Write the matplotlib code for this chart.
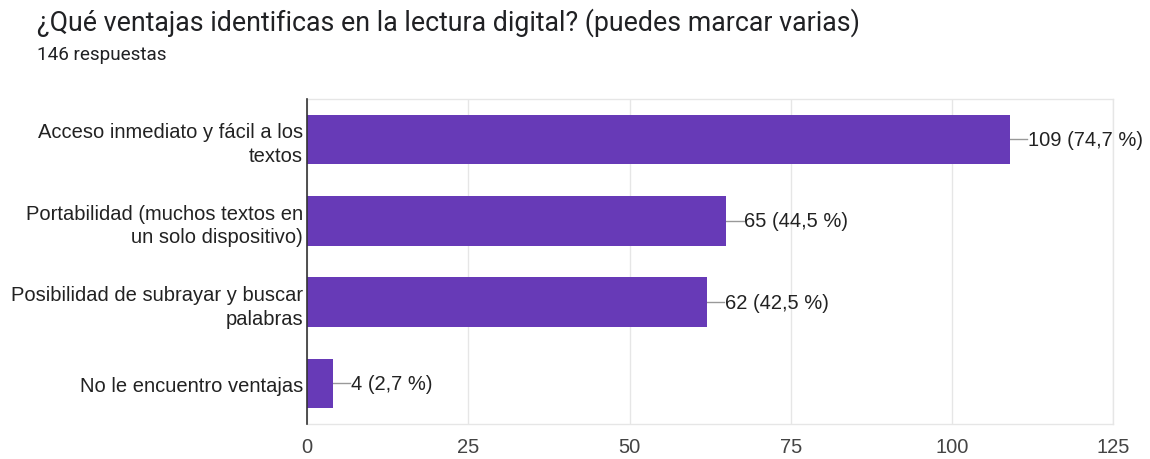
import matplotlib
matplotlib.use('Agg')
import matplotlib.pyplot as plt

# ---- data ----
categories = [
    'Acceso inmediato y fácil a los\ntextos',
    'Portabilidad (muchos textos en\nun solo dispositivo)',
    'Posibilidad de subrayar y buscar\npalabras',
    'No le encuentro ventajas',
]
counts = [109, 65, 62, 4]
percents = ['74,7', '44,5', '42,5', '2,7']
xticks = [0, 25, 50, 75, 100, 125]

TITLE = '¿Qué ventajas identificas en la lectura digital? (puedes marcar varias)'
SUBTITLE = '146 respuestas'

BAR_COLOR = '#673ab7'
GRID_COLOR = '#e6e6e6'
TEXT_COLOR = '#222222'
FS = 14.5

fig = plt.figure(figsize=(11.5, 4.6), dpi=100)
ax = fig.add_axes([0.267, 0.076, 0.701, 0.707])

ypos = list(range(len(categories)))
ax.barh(ypos, counts, height=0.61, color=BAR_COLOR, zorder=3)

ax.set_xlim(0, 125)
ax.set_ylim(len(categories) - 0.5, -0.5)
ax.set_xticks(xticks)
ax.set_xticklabels([str(t) for t in xticks], fontsize=FS, color='#444444',
                   family='Liberation Sans')
ax.set_yticks(ypos)
ax.set_yticklabels(categories, fontsize=FS, color=TEXT_COLOR,
                   family='Liberation Sans', linespacing=1.3)
ax.tick_params(axis='both', length=0)
ax.tick_params(axis='x', pad=9)
ax.tick_params(axis='y', pad=3)

ax.grid(axis='x', color=GRID_COLOR, linewidth=1, zorder=0)
for s in ['top', 'right', 'bottom']:
    ax.spines[s].set_color(GRID_COLOR)
    ax.spines[s].set_linewidth(1)
ax.spines['left'].set_color('#333333')
ax.spines['left'].set_linewidth(1.2)
ax.spines['left'].set_zorder(4)

# value labels with a short leader line
for y, c, p in zip(ypos, counts, percents):
    ax.plot([c, c + 2.7], [y, y], color='#999999', linewidth=1, zorder=2)
    ax.text(c + 2.8, y, f'{c} ({p} %)', va='center', ha='left',
            fontsize=FS, color=TEXT_COLOR, family='Liberation Sans')

fig.text(0.032, 0.950, TITLE, fontsize=19.3, color='#202124', family='Roboto',
         va='center', ha='left')
fig.text(0.032, 0.880, SUBTITLE, fontsize=13.6, color='#202124', family='Roboto',
         va='center', ha='left')

fig.savefig('out.png', dpi=100)
